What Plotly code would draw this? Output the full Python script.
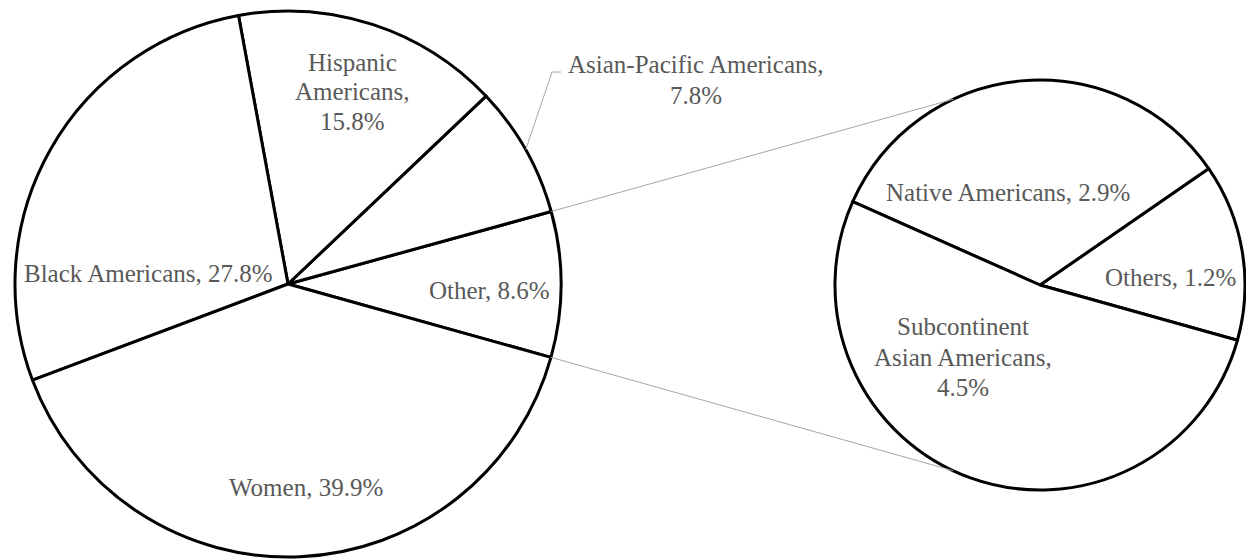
import math
import plotly.graph_objects as go

# ---- data -------------------------------------------------------------
main_labels = ["Other", "Asian-Pacific Americans", "Hispanic Americans",
               "Black Americans", "Women"]
main_values = [8.6, 7.8, 15.8, 27.8, 39.9]

sub_labels = ["Others", "Native Americans", "Subcontinent Asian Americans"]
sub_values = [1.2, 2.9, 4.5]

# ---- canvas / geometry (pixels) -------------------------------------------
W, H = 1246, 559
MAIN_C, MAIN_R = (288, 284), 273
SUB_C, SUB_R = (1040, 285), 205
MAIN_ROT = 74.6        # clockwise degrees from 12 o'clock where slice 1 ends
SUB_ROT = 55.4
CONNECT_ANGLE = 115.0  # where the connector lines meet the secondary pie

TEXT_COLOR = "#595959"
GRID_GRAY = "#a6a6a6"
FONT = "Liberation Serif"
FONT_SIZE = 25
LINE_STEP = 30


def px(x):
    return x / W


def py(y):
    return 1 - y / H


def domain(c, r):
    return dict(x=[px(c[0] - r), px(c[0] + r)], y=[py(c[1] + r), py(c[1] - r)])


def pie(labels, values, c, r, rot):
    return go.Pie(
        labels=labels, values=values, sort=False,
        direction="counterclockwise", rotation=rot,
        domain=domain(c, r), textinfo="none", hoverinfo="label+value",
        marker=dict(colors=["white"] * len(values),
                    line=dict(color="black", width=3)),
        showlegend=False,
    )


fig = go.Figure([pie(main_labels, main_values, MAIN_C, MAIN_R, MAIN_ROT),
                 pie(sub_labels, sub_values, SUB_C, SUB_R, SUB_ROT)])


def slice_edges(values, rot):
    """Math-angle (deg, ccw from +x) of each slice's start/end."""
    start = 90 - rot - values[0] / sum(values) * 360
    edges = []
    for v in values:
        end = start + v / sum(values) * 360
        edges.append((start, end))
        start = end
    return edges


def on_circle(c, r, ang):
    a = math.radians(ang)
    return c[0] + r * math.cos(a), c[1] - r * math.sin(a)


main_edges = slice_edges(main_values, MAIN_ROT)
other_lo, other_hi = main_edges[0]

shapes = []
# connectors from the "Other" slice to the breakdown pie
for ang_main, ang_sub in ((other_hi, CONNECT_ANGLE), (other_lo, -CONNECT_ANGLE)):
    x0, y0 = on_circle(MAIN_C, MAIN_R, ang_main)
    x1, y1 = on_circle(SUB_C, SUB_R, ang_sub)
    shapes.append(dict(type="line", xref="paper", yref="paper",
                       x0=px(x0), y0=py(y0), x1=px(x1), y1=py(y1),
                       line=dict(color=GRID_GRAY, width=1)))

# leader line for the Asian-Pacific label
ap_mid = sum(main_edges[1]) / 2
lx, ly = on_circle(MAIN_C, MAIN_R, ap_mid)
leader = [(lx, ly), (552, 72), (561, 72)]
path = "M " + " L ".join(f"{px(x)},{py(y)}" for x, y in leader)
shapes.append(dict(type="path", xref="paper", yref="paper", path=path,
                   line=dict(color=GRID_GRAY, width=1)))

# ---- labels ---------------------------------------------------------------
label_lines = {
    "Women": ["Women, {v}%"],
    "Black Americans": ["Black Americans, {v}%"],
    "Hispanic Americans": ["Hispanic", "Americans,", "{v}%"],
    "Asian-Pacific Americans": ["Asian-Pacific Americans,", "{v}%"],
    "Other": ["Other, {v}%"],
    "Native Americans": ["Native Americans, {v}%"],
    "Others": ["Others, {v}%"],
    "Subcontinent Asian Americans": ["Subcontinent", "Asian Americans,", "{v}%"],
}
label_centers = {
    "Women": (306, 488),
    "Black Americans": (148, 273),
    "Hispanic Americans": (352, 92),
    "Asian-Pacific Americans": (696, 80),
    "Other": (489, 290),
    "Native Americans": (1008, 192),
    "Others": (1170, 277),
    "Subcontinent Asian Americans": (963, 357),
}

values_by_label = dict(zip(main_labels + sub_labels, main_values + sub_values))
annotations = []
for name, lines in label_lines.items():
    cx, cy = label_centers[name]
    n = len(lines)
    for i, line in enumerate(lines):
        y = cy + (i - (n - 1) / 2) * LINE_STEP
        annotations.append(dict(
            text=line.format(v=values_by_label[name]),
            x=px(cx), y=py(y), xref="paper", yref="paper",
            xanchor="center", yanchor="middle", showarrow=False,
            font=dict(family=FONT, size=FONT_SIZE, color=TEXT_COLOR),
        ))

fig.update_layout(
    width=W, height=H, margin=dict(l=0, r=0, t=0, b=0),
    paper_bgcolor="white", plot_bgcolor="white",
    shapes=shapes, annotations=annotations,
)

fig.write_html("out.html")
